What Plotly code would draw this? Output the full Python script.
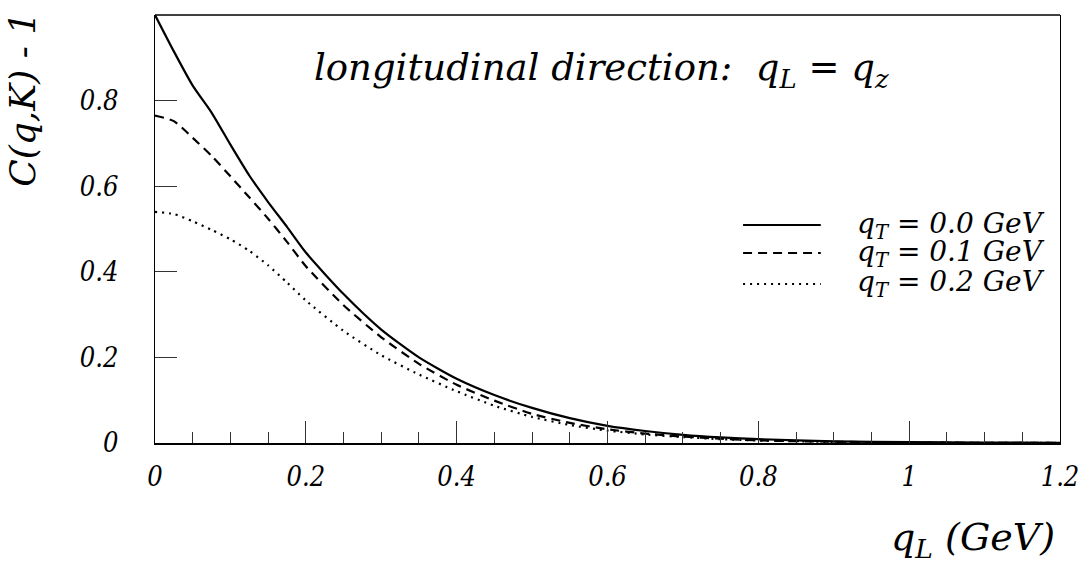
import plotly.graph_objects as go

q_L = [0, 0.025, 0.05, 0.075, 0.1, 0.125, 0.15, 0.175, 0.2, 0.25, 0.3, 0.35, 0.4,
       0.45, 0.5, 0.55, 0.6, 0.65, 0.7, 0.75, 0.8, 0.9, 1.0, 1.1, 1.2]
c_qt00 = [1.0, 0.915, 0.835, 0.772, 0.697, 0.625, 0.563, 0.505, 0.445, 0.348, 0.265, 0.200, 0.150,
          0.112, 0.082, 0.058, 0.040, 0.028, 0.019, 0.013, 0.009, 0.004, 0.002, 0.001, 0.0005]
c_qt01 = [0.765, 0.752, 0.713, 0.671, 0.623, 0.574, 0.524, 0.470, 0.413, 0.322, 0.247, 0.185, 0.136,
          0.099, 0.068, 0.047, 0.032, 0.022, 0.015, 0.010, 0.006, 0.003, 0.0012, 0.0005, 0.0002]
c_qt02 = [0.540, 0.535, 0.518, 0.498, 0.476, 0.449, 0.415, 0.375, 0.333, 0.262, 0.205, 0.160, 0.121,
          0.087, 0.061, 0.042, 0.029, 0.020, 0.014, 0.009, 0.006, 0.0025, 0.001, 0.0004, 0.0002]

series_labels = ["q<sub>T</sub> = 0.0 GeV", "q<sub>T</sub> = 0.1 GeV", "q<sub>T</sub> = 0.2 GeV"]
series_values = [c_qt00, c_qt01, c_qt02]
dash_styles = ["solid", "9px,6px", "2px,5px"]

x_tickvals = [0, 0.2, 0.4, 0.6, 0.8, 1.0, 1.2]
x_ticktext = ["0", "0.2", "0.4", "0.6", "0.8", "1", "1.2"]
y_tickvals = [0, 0.2, 0.4, 0.6, 0.8, 1.0]
y_ticktext = ["0", "0.2", "0.4", "0.6", "0.8", "1"]

SERIF_C = "DejaVu Serif Condensed"
SERIF = "DejaVu Serif"

fig = go.Figure()
for vals, lab, dash in zip(series_values, series_labels, dash_styles):
    fig.add_trace(go.Scatter(x=q_L, y=vals, mode="lines", name=lab,
                             line=dict(color="black", width=2.2, dash=dash,
                                       shape="spline", smoothing=0.6),
                             showlegend=False))

tickfont = dict(family=SERIF_C, size=27, color="black", style="italic")

fig.update_layout(
    width=1091, height=579,
    margin=dict(l=155, r=28, t=15, b=136),
    paper_bgcolor="white", plot_bgcolor="white",
    xaxis=dict(range=[0, 1.2], tickvals=x_tickvals, ticktext=x_ticktext,
               ticks="inside", ticklen=22, tickwidth=1.2, tickcolor="#333",
               minor=dict(ticks="inside", ticklen=11, dtick=0.05, tickwidth=1.2, tickcolor="#333"),
               showline=True, linecolor="black", linewidth=2, mirror=False,
               showgrid=False, zeroline=False, tickfont=tickfont, ticklabelstandoff=9),
    yaxis=dict(range=[0, 1], tickvals=y_tickvals, ticktext=y_ticktext,
               ticks="inside", ticklen=22, tickwidth=1.2, tickcolor="#333",
               showline=True, linecolor="black", linewidth=1.3, mirror=True,
               showgrid=False, zeroline=False, tickfont=tickfont, ticklabelstandoff=30),
)

# top frame line
fig.add_shape(type="line", xref="paper", yref="paper", x0=0, x1=1, y0=1, y1=1,
              line=dict(color="black", width=1.3))

def ann_font(s, fam=SERIF):
    return dict(family=fam, size=s, color="black", style="italic")

# title inside the frame
fig.add_annotation(xref="paper", yref="paper", x=0.174, y=0.8715, xanchor="left", yanchor="middle",
                   text="longitudinal direction:&nbsp;&nbsp;q<sub>L</sub> = q<sub>z</sub>",
                   showarrow=False, font=ann_font(37))

# y axis title
fig.add_annotation(xref="paper", yref="paper", x=-0.1465, y=1.012, xanchor="center", yanchor="top",
                   text="C(q,K) - 1", textangle=-90, showarrow=False, font=ann_font(36))

# x axis title
fig.add_annotation(xref="paper", yref="paper", x=0.9967, y=-0.2266, xanchor="right", yanchor="middle",
                   text="q<sub>L</sub> (GeV)", showarrow=False, font=ann_font(38))

# legend
leg_y = [0.5093, 0.4439, 0.3715]
for yy, lab, dash in zip(leg_y, series_labels, dash_styles):
    fig.add_shape(type="line", xref="paper", yref="paper", x0=0.6498, x1=0.7357, y0=yy, y1=yy,
                  line=dict(color="black", width=2.2, dash=dash))
    fig.add_annotation(xref="paper", yref="paper", x=0.774, y=yy, xanchor="left", yanchor="middle",
                       text=lab, showarrow=False, font=ann_font(28))

fig.write_html("out.html")
